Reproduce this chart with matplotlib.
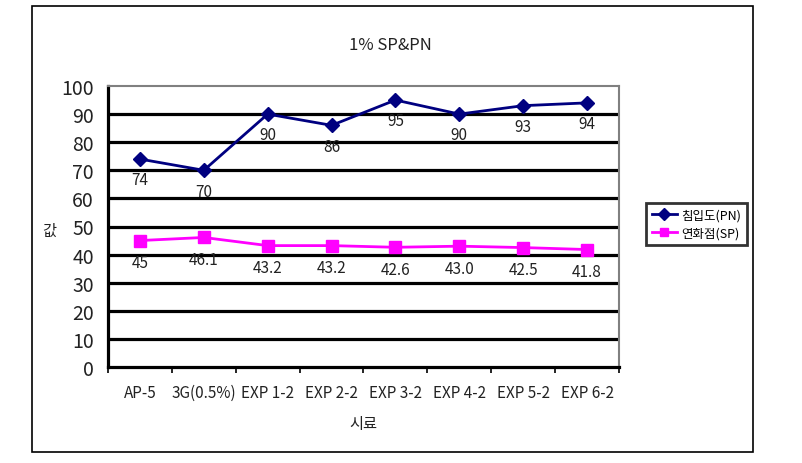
import matplotlib
matplotlib.use("Agg")
import matplotlib.pyplot as plt
from matplotlib.patches import Rectangle

plt.rcParams['font.family'] = ['Noto Sans CJK KR', 'DejaVu Sans']

categories = ["AP-5", "3G(0.5%)", "EXP 1-2", "EXP 2-2", "EXP 3-2", "EXP 4-2", "EXP 5-2", "EXP 6-2"]
pn_values = [74, 70, 90, 86, 95, 90, 93, 94]
sp_values = [45, 46.1, 43.2, 43.2, 42.6, 43.0, 42.5, 41.8]
pn_labels = ["74", "70", "90", "86", "95", "90", "93", "94"]
sp_labels = ["45", "46.1", "43.2", "43.2", "42.6", "43.0", "42.5", "41.8"]
yticks = [0, 10, 20, 30, 40, 50, 60, 70, 80, 90, 100]

W, H = 803, 464
fig = plt.figure(figsize=(W / 100, H / 100), dpi=100)

# outer chart frame
fig.patches.append(Rectangle((32 / W, 1 - 453 / H), (753 - 32) / W, (453 - 7) / H,
                             transform=fig.transFigure, fill=False, edgecolor='black',
                             linewidth=1.2, zorder=0))

ax = fig.add_axes([108 / W, 1 - 368 / H, (619 - 108) / W, (368 - 87) / H])
x = list(range(len(categories)))

ax.set_xlim(-0.5, len(categories) - 0.5)
ax.set_ylim(0, 100)
ax.set_yticks(yticks)
for t in yticks[1:-1]:
    ax.axhline(t, color='black', linewidth=2.3, zorder=1)

ax.plot(x, pn_values, color='#000080', linewidth=2, marker='D', markersize=7,
        label='침입도(PN)', zorder=3)
ax.plot(x, sp_values, color='#FF00FF', linewidth=2, marker='s', markersize=8,
        label='연화점(SP)', zorder=3)

for xi, v, s in zip(x, pn_values, pn_labels):
    ax.annotate(s, (xi, v), xytext=(0, -15), textcoords='offset points',
                ha='center', va='center', fontsize=11, color='#222222', zorder=2)
for xi, v, s in zip(x, sp_values, sp_labels):
    ax.annotate(s, (xi, v), xytext=(0, -16), textcoords='offset points',
                ha='center', va='center', fontsize=11, color='#222222', zorder=2)

ax.set_xticks(x)
ax.set_xticklabels(categories, fontsize=11, color='#222222')
ax.set_xticks([i + 0.5 for i in range(-1, len(categories))], minor=True)
ax.tick_params(axis='x', which='major', length=0, pad=12)
ax.tick_params(axis='x', which='minor', length=4, width=1.2, color='black', direction='out')
ax.tick_params(axis='y', length=0, pad=10, labelsize=14, labelcolor='#222222')

ax.spines['left'].set_color('black')
ax.spines['left'].set_linewidth(2.3)
ax.spines['bottom'].set_color('black')
ax.spines['bottom'].set_linewidth(2.3)
ax.spines['top'].set_color('#808080')
ax.spines['top'].set_linewidth(1.5)
ax.spines['right'].set_color('#808080')
ax.spines['right'].set_linewidth(1.5)

ax.set_xlabel('시료', fontsize=11, labelpad=10, color='#222222')
fig.text(49 / W, 1 - 231 / H, '값', fontsize=11, ha='center', va='center', color='#222222')

fig.text(390 / W, 1 - 46 / H, '1% SP&PN', fontsize=12, ha='center', va='center', color='#222222')

leg = ax.legend(loc='center left', bbox_to_anchor=(646 / W, 1 - 225 / H),
                bbox_transform=fig.transFigure, fontsize=9, frameon=True, fancybox=False,
                handlelength=2.0, borderpad=0.45, labelspacing=0.35, handletextpad=0.4,
                borderaxespad=0)
leg.get_frame().set_edgecolor('black')
leg.get_frame().set_linewidth(2)
for h in leg.legend_handles:
    h.set_markersize(6)

fig.savefig('out.png', dpi=100)
